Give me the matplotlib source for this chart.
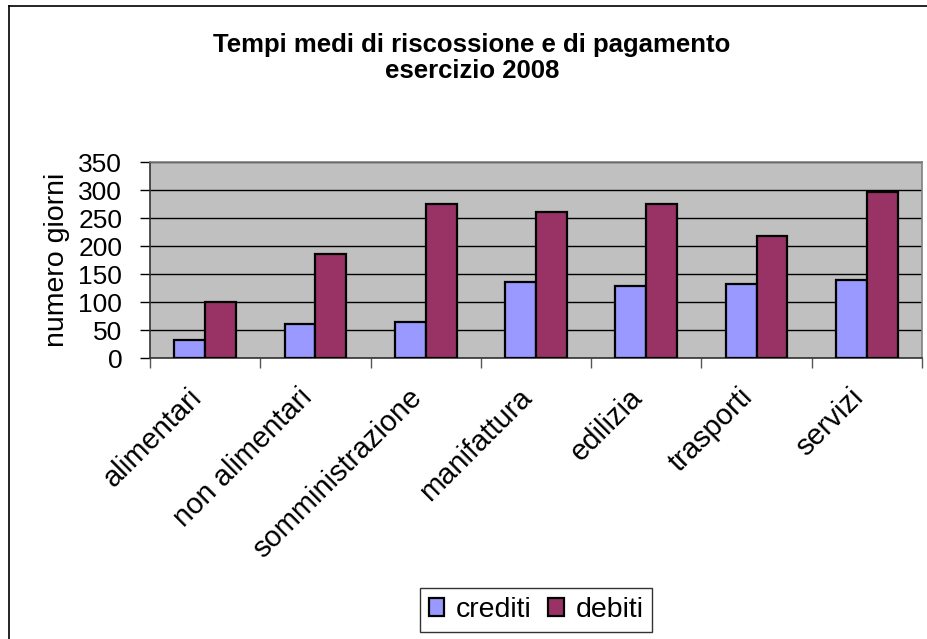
import matplotlib
matplotlib.use("Agg")
import matplotlib.pyplot as plt
import numpy as np
from matplotlib.lines import Line2D
from matplotlib.transforms import ScaledTranslation

categories = ["alimentari", "non alimentari", "somministrazione", "manifattura",
              "edilizia", "trasporti", "servizi"]
crediti = [32, 60, 64, 136, 129, 132, 139]
debiti = [100, 186, 275, 260, 275, 218, 296]
yticks = [0, 50, 100, 150, 200, 250, 300, 350]

plt.rcParams['font.family'] = ['Liberation Sans', 'DejaVu Sans']

fig = plt.figure(figsize=(9.27, 6.39), dpi=100)
ax = fig.add_axes([150/927, 1-358/639, 772/927, 196/639])
ax.set_facecolor('#C0C0C0')

x = np.arange(len(categories))
w = 0.28
ax.bar(x - w/2, crediti, w, color='#9999FF', edgecolor='black', linewidth=1.6,
       label='crediti', zorder=3)
ax.bar(x + w/2, debiti, w, color='#993366', edgecolor='black', linewidth=1.6,
       label='debiti', zorder=3)

ax.set_xlim(-0.5, len(categories) - 0.5)
ax.set_ylim(0, 350)
ax.set_yticks(yticks)
ax.set_yticklabels([str(v) for v in yticks], fontsize=19)
ax.yaxis.grid(True, color='black', linewidth=1.0, zorder=1)
ax.set_axisbelow(True)
ax.tick_params(axis='y', length=7, width=1, color='black', pad=13)

# category labels (rotated 45 degrees)
ax.set_xticks(x)
ax.set_xticklabels([''] * len(categories))
ax.tick_params(axis='x', which='major', length=0)
lab_tr = ax.get_xaxis_transform() + ScaledTranslation(-18/100, -25/100, fig.dpi_scale_trans)
for xi, cat in zip(x, categories):
    ax.text(xi, 0, cat, transform=lab_tr, fontsize=21, rotation=45,
            ha='right', va='top', rotation_mode='anchor', clip_on=False)
ax.set_xticks(np.arange(-0.5, len(categories), 1.0), minor=True)
ax.tick_params(axis='x', which='minor', length=7, width=1, color='#555555')

for s in ['top', 'right']:
    ax.spines[s].set_color('#808080')
    ax.spines[s].set_linewidth(1.2)
for s in ['left', 'bottom']:
    ax.spines[s].set_color('#333333')
    ax.spines[s].set_linewidth(1.2)

ax.set_ylabel('numero giorni', fontsize=20.5, labelpad=6)

fig.text(0.509, 1-45/639, 'Tempi medi di riscossione e di pagamento',
         ha='center', va='center', fontsize=18.5, fontweight='bold')
fig.text(0.509, 1-71/639, 'esercizio 2008',
         ha='center', va='center', fontsize=18.5, fontweight='bold')

leg = fig.legend(loc='center', bbox_to_anchor=(536/927, 1-610/639), ncol=2,
                 fontsize=20.5, frameon=True, fancybox=False, edgecolor='black',
                 handlelength=0.55, handleheight=0.55, handletextpad=0.4,
                 columnspacing=0.6, borderpad=0.3)
leg.get_frame().set_linewidth(1.0)

# chart area frame
fig.add_artist(Line2D([9/927, 9/927], [0, 1-6/639], transform=fig.transFigure,
                      color='black', linewidth=1.2))
fig.add_artist(Line2D([9/927, 1], [1-6/639, 1-6/639], transform=fig.transFigure,
                      color='black', linewidth=1.2))

fig.savefig('out.png', dpi=100)
